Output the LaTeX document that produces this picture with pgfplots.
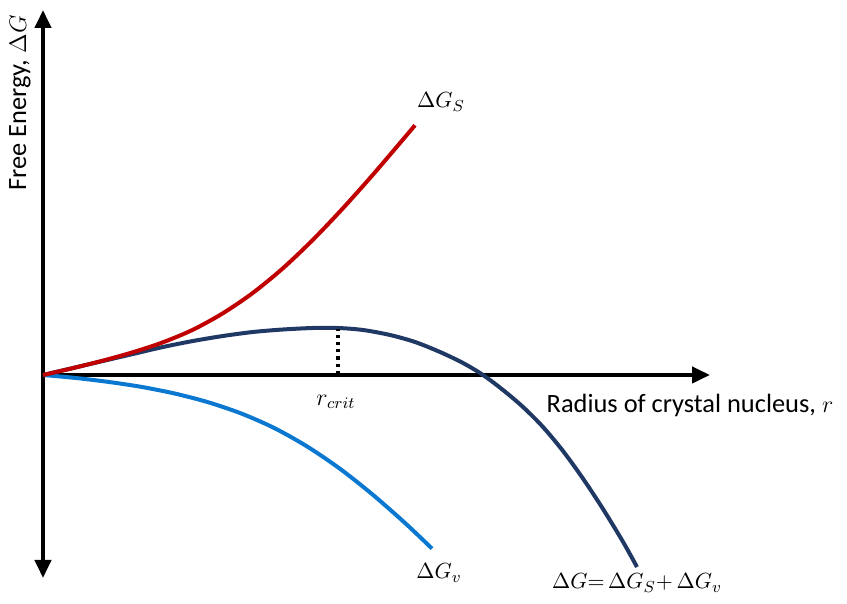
\documentclass[border=0pt]{standalone}
\usepackage{pgfplots}
\pgfplotsset{compat=1.18}
\usepackage{fontspec}
\setmainfont{Carlito}
\usetikzlibrary{arrows.meta}
\definecolor{cred}{HTML}{C00000}
\definecolor{cnavy}{HTML}{1F3864}
\definecolor{cblue}{HTML}{0A78D0}
\begin{document}
\begin{tikzpicture}
\begin{axis}[
  x=0.5pt, y=0.5pt,
  scale only axis,
  xmin=0, xmax=667, ymin=-203, ymax=365,
  axis lines=middle,
  xtick=\empty, ytick=\empty,
  clip=false,
  axis line style={line width=2pt},
  x axis line style={-{Triangle[length=9pt,width=8pt]}},
  y axis line style={{Triangle[length=9pt,width=8pt]}-{Triangle[length=9pt,width=8pt]}},
  every axis plot/.append style={line width=2pt, no marks},
  font=\fontsize{13.2}{16}\selectfont,
]
% invisible bounding box for proportions
\path (axis cs:-43,-229) rectangle (axis cs:804,375);

\addplot[cblue, smooth] coordinates {
 (0,0) (33,-3) (66,-7) (99,-12) (132,-18.6) (165,-27.2) (198,-38.4) (231,-52.9) (264,-71.4) (297,-93.8) (330,-119.9) (363,-148.9) (389,-173.6)};
\addplot[cnavy, smooth] coordinates {
 (0,0) (30,7) (60,14) (90,21) (120,28) (150,34) (180,39) (210,43) (240,45.5) (270,47) (295,47) (320,45) (347,40) (372,33) (397,23) (420,12) (440,0) (460,-15) (480,-32) (500,-52) (520,-76) (540,-103.6) (560,-134) (580,-166.8) (594,-192)};
\addplot[cred, smooth] coordinates {
 (0,0) (30,6.9) (60,14.4) (90,22.8) (120,32.7) (150,45.3) (180,61.8) (210,82.2) (240,106.8) (270,135.3) (300,166.8) (330,200.4) (360,235.5) (372,249.7)};
\addplot[black, line width=1.6pt, dotted] coordinates {(295,1) (295,46)};

\node[anchor=west, font=\fontsize{11}{13}\selectfont] at (axis cs:367,273) {$\Delta G_S$};
\node[font=\fontsize{11}{13}\selectfont] at (axis cs:396,-198) {$\Delta G_v$};
\node[font=\fontsize{12}{14}\selectfont] at (axis cs:293,-27) {$r_{crit}$};
\node at (axis cs:647,-30) {Radius of crystal nucleus, {\fontsize{12}{14}\selectfont$r$}};
\node[font=\fontsize{11}{13}\selectfont] at (axis cs:594,-208) {$\Delta G{=}\,\Delta G_S{+}\,\Delta G_v$};
\node[rotate=90] at (axis cs:-23,272) {Free Energy, {\fontsize{12}{14}\selectfont$\Delta G$}};
\end{axis}
\end{tikzpicture}
\end{document}
